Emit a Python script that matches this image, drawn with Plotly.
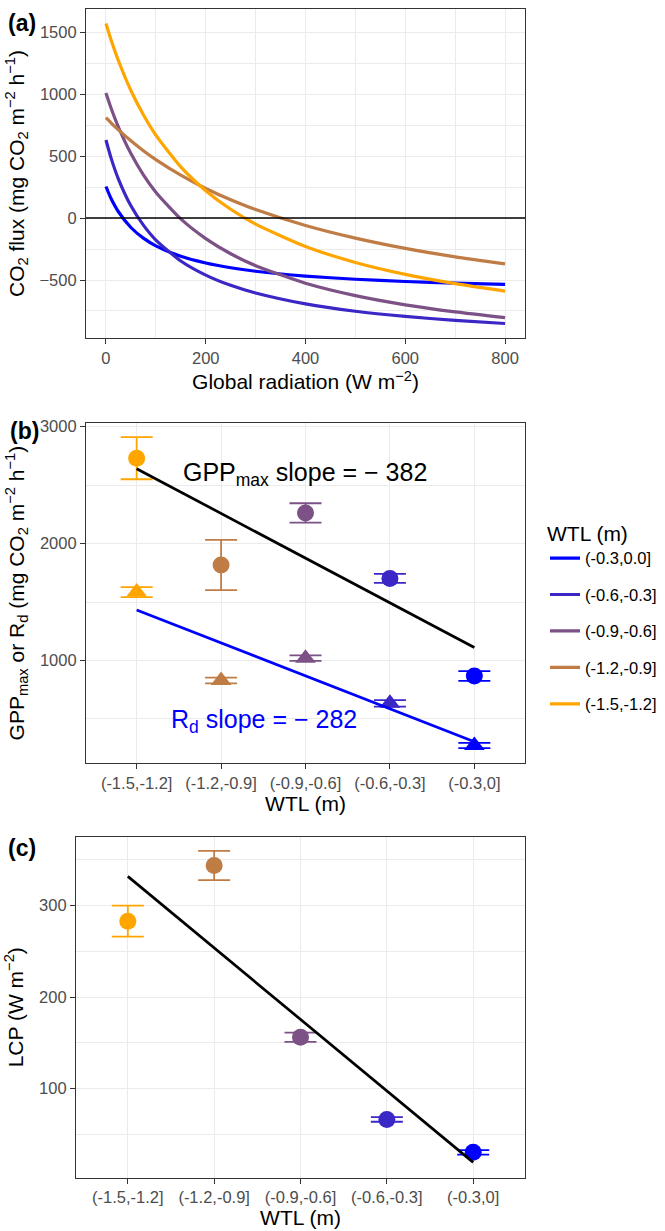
import plotly.graph_objects as go

W, H = 665, 1231

# ---------------- Panel (a): light-response curves
radiation = [0, 10, 25, 50, 75, 100, 150, 200, 250, 300, 400, 500, 600, 700, 800]
flux_03_00 = [255, 160, 51, -76, -162, -224, -309, -363, -401, -429, -468, -494, -512, -525, -535]
flux_06_03 = [630, 488, 315, 99, -57, -177, -346, -460, -543, -605, -693, -752, -794, -826, -851]
flux_09_06 = [1010, 891, 735, 521, 349, 209, -7, -166, -288, -384, -526, -626, -700, -757, -803]
flux_12_09 = [810, 769, 712, 624, 544, 472, 346, 239, 148, 69, -60, -162, -245, -313, -370]
flux_15_12 = [1570, 1441, 1270, 1030, 834, 670, 413, 221, 71, -49, -229, -358, -454, -529, -589]

legend_labels = ["(-0.3,0.0]", "(-0.6,-0.3]", "(-0.9,-0.6]", "(-1.2,-0.9]", "(-1.5,-1.2]"]
legend_colors = ["#0000FF", "#3B27C6", "#7B5186", "#C07C45", "#FFA500"]
flux_series = [flux_03_00, flux_06_03, flux_09_06, flux_12_09, flux_15_12]

# ---------------- Panels (b) and (c): per-WTL-class parameters
wtl_classes = ["(-1.5,-1.2]", "(-1.2,-0.9]", "(-0.9,-0.6]", "(-0.6,-0.3]", "(-0.3,0]"]
class_colors = ["#FFA500", "#C07C45", "#7B5186", "#3B27C6", "#0000FF"]
gpp_max = [2730, 1816, 2262, 1702, 867]
gpp_err = [180, 215, 83, 38, 42]
rd = [1585, 829, 1020, 633, 273]
rd_err = [43, 25, 24, 28, 22]
gpp_fit_ends = [2640, 1111]
rd_fit_ends = [1432, 304]
lcp = [283, 344, 156, 66, 30]
lcp_err = [17, 16, 5, 2.5, 2.5]
lcp_fit_ends = [332, 19]

FONT = "Liberation Sans, Arial, sans-serif"
TICK_FONT = dict(family=FONT, size=16.5, color="#4D4D4D")
TITLE_FONT = dict(family=FONT, size=21, color="black")
GRID = "#EBEBEB"
BORDER = "#333333"


def px_x(p):
    return p / W


def px_y(p):
    return 1 - p / H


fig = go.Figure()

# Panel (a) curves
for lab, col, ys in zip(legend_labels, legend_colors, flux_series):
    fig.add_trace(go.Scatter(
        x=radiation, y=ys, mode="lines", name=lab, legendgroup=lab,
        line=dict(color=col, width=3.2, shape="spline", smoothing=0.6),
        xaxis="x", yaxis="y", showlegend=True))

# Panel (b) points with error bars
for cat, col, g, ge, r, re in zip(wtl_classes, class_colors, gpp_max, gpp_err, rd, rd_err):
    fig.add_trace(go.Scatter(
        x=[cat], y=[g], mode="markers", showlegend=False,
        marker=dict(color=col, size=17, symbol="circle"),
        error_y=dict(type="data", array=[ge], color=col, thickness=1.8, width=16),
        xaxis="x2", yaxis="y2"))
    fig.add_trace(go.Scatter(
        x=[cat], y=[r], mode="markers", showlegend=False,
        marker=dict(color=col, size=18, symbol="triangle-up"),
        error_y=dict(type="data", array=[re], color=col, thickness=1.8, width=16),
        xaxis="x2", yaxis="y2"))

fig.add_trace(go.Scatter(x=[wtl_classes[0], wtl_classes[-1]], y=gpp_fit_ends, mode="lines",
                         line=dict(color="black", width=2.7), showlegend=False,
                         xaxis="x2", yaxis="y2"))
fig.add_trace(go.Scatter(x=[wtl_classes[0], wtl_classes[-1]], y=rd_fit_ends, mode="lines",
                         line=dict(color="#0000FF", width=2.7), showlegend=False,
                         xaxis="x2", yaxis="y2"))

# Panel (c)
for cat, col, v, e in zip(wtl_classes, class_colors, lcp, lcp_err):
    fig.add_trace(go.Scatter(
        x=[cat], y=[v], mode="markers", showlegend=False,
        marker=dict(color=col, size=17, symbol="circle"),
        error_y=dict(type="data", array=[e], color=col, thickness=1.8, width=16),
        xaxis="x3", yaxis="y3"))
fig.add_trace(go.Scatter(x=[wtl_classes[0], wtl_classes[-1]], y=lcp_fit_ends, mode="lines",
                         line=dict(color="black", width=2.7), showlegend=False,
                         xaxis="x3", yaxis="y3"))

common_axis = dict(showline=True, linecolor=BORDER, linewidth=1.2, mirror=True,
                   ticks="outside", ticklen=5, tickcolor=BORDER, tickwidth=1.2,
                   tickfont=TICK_FONT, showgrid=True, gridcolor=GRID, gridwidth=1.3,
                   zeroline=False)

dom_x_ab = [px_x(86), px_x(525)]
dom_x_c = [px_x(76), px_x(525)]

fig.update_layout(
    width=W, height=H,
    margin=dict(l=0, r=0, t=0, b=0),
    paper_bgcolor="white", plot_bgcolor="white",
    font=dict(family=FONT),
    xaxis=dict(common_axis, domain=dom_x_ab, anchor="y", range=[-40, 840],
               tickvals=[0, 200, 400, 600, 800],
               minor=dict(dtick=100, tick0=0, showgrid=True, gridcolor=GRID, gridwidth=0.8, ticks=""),
               title=dict(text="Global radiation (W m<sup>−2</sup>)", font=TITLE_FONT, standoff=8)),
    yaxis=dict(common_axis, domain=[px_y(334), px_y(2.6)], anchor="x", range=[-971, 1691],
               tickvals=[-500, 0, 500, 1000, 1500],
               minor=dict(dtick=250, tick0=0, showgrid=True, gridcolor=GRID, gridwidth=0.8, ticks=""),
               title=dict(text="CO<sub>2</sub> flux (mg CO<sub>2</sub> m<sup>−2</sup> h<sup>−1</sup>)",
                          font=TITLE_FONT, standoff=9)),
    xaxis2=dict(common_axis, domain=dom_x_ab, anchor="y2", type="category",
                categoryorder="array", categoryarray=wtl_classes, range=[-0.6, 4.6],
                title=dict(text="WTL (m)", font=TITLE_FONT, standoff=4)),
    yaxis2=dict(common_axis, domain=[px_y(760.7), px_y(419.3)], anchor="x2", range=[123, 3029],
                tickvals=[1000, 2000, 3000],
                minor=dict(dtick=500, tick0=0, showgrid=True, gridcolor=GRID, gridwidth=0.8, ticks=""),
                title=dict(text="GPP<sub>max</sub> or R<sub>d</sub> (mg CO<sub>2</sub> m<sup>−2</sup> h<sup>−1</sup>)",
                           font=TITLE_FONT, standoff=9)),
    xaxis3=dict(common_axis, domain=dom_x_c, anchor="y3", type="category",
                categoryorder="array", categoryarray=wtl_classes, range=[-0.6, 4.6],
                title=dict(text="WTL (m)", font=TITLE_FONT, standoff=4)),
    yaxis3=dict(common_axis, domain=[px_y(1177.3), px_y(835)], anchor="x3", range=[2.4, 375.2],
                tickvals=[100, 200, 300],
                minor=dict(dtick=50, tick0=0, showgrid=True, gridcolor=GRID, gridwidth=0.8, ticks=""),
                title=dict(text="LCP (W m<sup>−2</sup>)", font=TITLE_FONT, standoff=9)),
    legend=dict(x=px_x(545), y=px_y(510), xanchor="left", yanchor="top",
                title=dict(text="WTL (m)", font=dict(family=FONT, size=21, color="black")),
                font=dict(family=FONT, size=16.5, color="black"),
                tracegroupgap=12, bgcolor="rgba(0,0,0,0)", itemwidth=30),
)

# zero line in panel (a)
fig.add_shape(type="line", xref="x domain", yref="y", x0=0, x1=1, y0=0, y1=0,
              line=dict(color="black", width=1.5))

# slope annotations in panel (b)
fig.add_annotation(text="GPP<sub>max</sub> slope = − 382", xref="paper", yref="paper",
                   x=px_x(305), y=px_y(470), xanchor="center", yanchor="middle", showarrow=False,
                   font=dict(family=FONT, size=25, color="black"))
fig.add_annotation(text="R<sub>d</sub> slope = − 282", xref="paper", yref="paper",
                   x=px_x(264), y=px_y(719), xanchor="center", yanchor="middle", showarrow=False,
                   font=dict(family=FONT, size=25, color="#0000FF"))

# panel tags
for tag, cx, cy in [("(a)", 22, 17), ("(b)", 24, 427), ("(c)", 22, 846)]:
    fig.add_annotation(text=f"<b>{tag}</b>", xref="paper", yref="paper",
                       x=px_x(cx), y=px_y(cy), xanchor="center", yanchor="middle",
                       showarrow=False, font=dict(family=FONT, size=23, color="black"))

fig.write_html("out.html")
